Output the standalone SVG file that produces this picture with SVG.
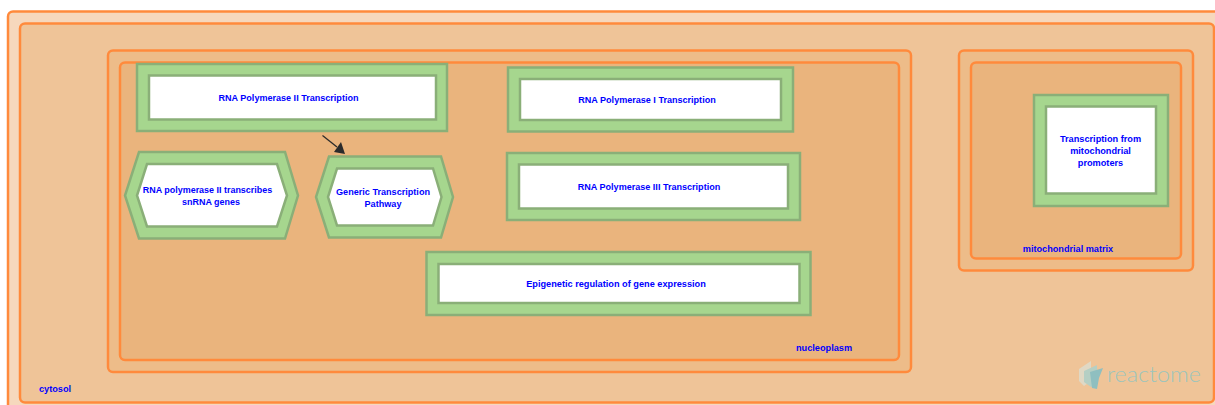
<svg xmlns="http://www.w3.org/2000/svg" width="1215" height="405" viewBox="0 0 1215 405">
<style>
.c{stroke:#FF8A3C;stroke-width:2.5}
.o{fill:#A6D68E;stroke:#8AAF78;stroke-width:2.5}
.i{fill:#FFFFFF;stroke:#8AAF78;stroke-width:2.5}
text{font-family:"Liberation Sans",Arial,sans-serif;font-size:9.2px;font-weight:bold;fill:#0000FF;text-anchor:middle}
</style>
<rect width="1215" height="405" fill="#FFFFFF"/>
<g id="compartments">
<rect id="cytosol-outer" class="c" x="8" y="11.500" width="1240" height="420" rx="5" fill="#F6D8BD"/>
<rect id="cytosol-inner" class="c" x="20" y="23.500" width="1194" height="379" rx="5" fill="#EFC498"/>
<rect id="nucleus-outer" class="c" x="108" y="50.500" width="803" height="321.500" rx="5" fill="#EDBC89"/>
<rect id="nucleoplasm" class="c" x="120" y="62.500" width="779" height="297.500" rx="5" fill="#EAB47D"/>
<rect id="mito-outer" class="c" x="959" y="50.500" width="234" height="220" rx="5" fill="#EDBC89"/>
<rect id="mito-matrix" class="c" x="971" y="62.500" width="210" height="196" rx="5" fill="#EAB47D"/>
<text x="55" y="392">cytosol</text>
<text x="824" y="350.500">nucleoplasm</text>
<text x="1068" y="251.500" style="font-size:9.150px">mitochondrial matrix</text>
</g>
<g id="connectors">
<line x1="322.500" y1="135.500" x2="337" y2="147" stroke="#2B2B2B" stroke-width="1.300"/>
<polygon points="345,154 334,152 341,142" fill="#2B2B2B"/>
</g>
<g id="n1">
<rect class="o" x="137" y="64" width="310" height="67"/>
<rect class="i" x="149" y="75.500" width="287" height="44"/>
<text x="288.500" y="100.500" style="font-size:9.050px">RNA Polymerase II Transcription</text>
</g>
<g id="n2">
<rect class="o" x="508" y="67.500" width="285" height="64"/>
<rect class="i" x="520" y="79" width="261" height="41"/>
<text x="647" y="103" style="font-size:9.050px">RNA Polymerase I Transcription</text>
</g>
<g id="n3">
<rect class="o" x="507" y="153" width="293" height="67"/>
<rect class="i" x="519" y="164.500" width="269" height="44"/>
<text x="649" y="190" style="font-size:9.050px">RNA Polymerase III Transcription</text>
</g>
<g id="n4">
<rect class="o" x="426.500" y="252" width="384" height="63"/>
<rect class="i" x="438.500" y="264" width="361" height="39"/>
<text x="616" y="286.500">Epigenetic regulation of gene expression</text>
</g>
<g id="n5">
<polygon class="o" points="139,152 285,152 298,195.500 285,238.500 139,238.500 125,195.500"/>
<polygon class="i" points="147,164 277,164 287,195.500 277,226.500 147,226.500 137,195.500"/>
<text x="207.500" y="192.500" style="font-size:8.950px">RNA polymerase II transcribes</text>
<text x="211" y="204.500" style="font-size:8.950px">snRNA genes</text>
</g>
<g id="n6">
<polygon class="o" points="329,156.500 441,156.500 453,197 441,237.500 329,237.500 316,197"/>
<polygon class="i" points="337,168.500 433,168.500 441.500,197 433,225.500 337,225.500 328,197"/>
<text x="383" y="194.500" style="font-size:9.100px">Generic Transcription</text>
<text x="383" y="206.500" style="font-size:9.100px">Pathway</text>
</g>
<g id="n7">
<rect class="o" x="1034" y="95" width="134" height="111"/>
<rect class="i" x="1046" y="106.500" width="110" height="87"/>
<text x="1100.500" y="142">Transcription from</text>
<text x="1100.500" y="154">mitochondrial</text>
<text x="1100.500" y="166">promoters</text>
</g>
<g id="logo">
<polygon points="1079,369 1091,361 1091,381 1084,386 1079,381" fill="#E0D8C4"/>
<polygon points="1084,371 1097,365 1097,383 1091,387 1084,382" fill="#B5CFC4"/>
<polygon points="1090,372 1103,368 1099,378 1097,389 1092,388" fill="#8FBFC0"/>
<text x="1107" y="382" textLength="94" lengthAdjust="spacingAndGlyphs" style="font-size:21px;font-weight:300;fill:#9CC4BC;text-anchor:start;font-family:'Lato','Liberation Sans',sans-serif">reactome</text>
</g>
</svg>
